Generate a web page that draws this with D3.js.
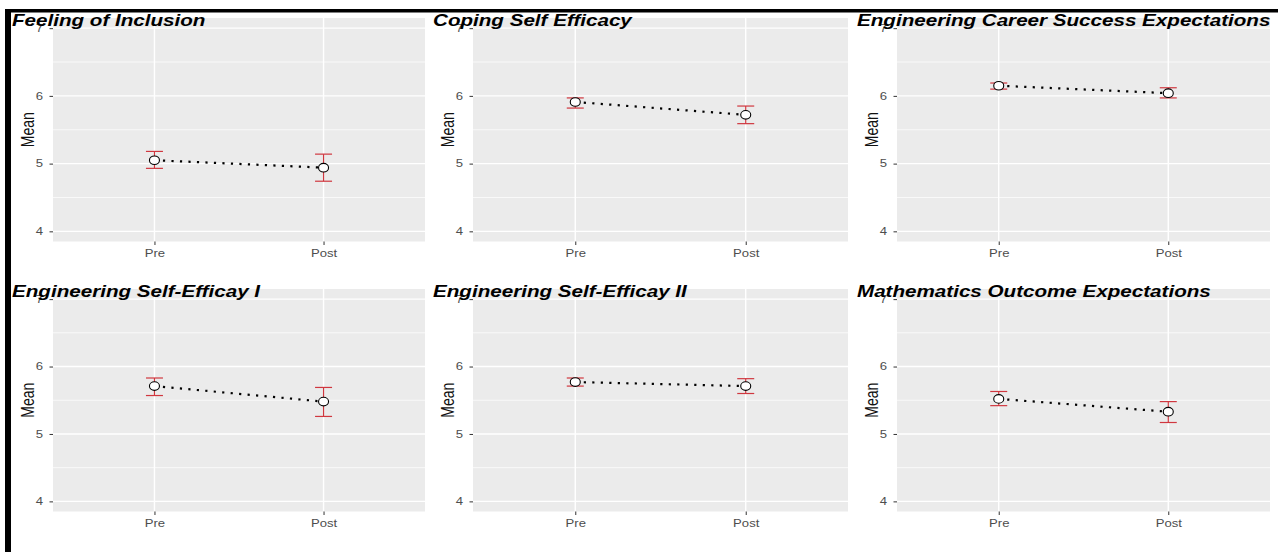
<!DOCTYPE html>
<html>
<head>
<meta charset="utf-8">
<script src="https://cdn.jsdelivr.net/npm/d3@7"></script>
<style>
  html, body { margin: 0; padding: 0; background: #ffffff; }
  svg { display: block; }
</style>
</head>
<body>
<svg id="chart" width="1278" height="552"></svg>
<script>
// ---- data ----
const categories = ["Pre", "Post"];
const titles = [
  "Feeling of Inclusion",
  "Coping Self Efficacy",
  "Engineering Career Success Expectations",
  "Engineering Self-Efficay I",
  "Engineering Self-Efficay II",
  "Mathematics Outcome Expectations"
];
const means = [
  [5.05, 4.94],
  [5.91, 5.72],
  [6.15, 6.04],
  [5.71, 5.48],
  [5.77, 5.71],
  [5.52, 5.33]
];
const lowers = [
  [4.93, 4.74],
  [5.82, 5.59],
  [6.10, 5.97],
  [5.57, 5.26],
  [5.71, 5.60],
  [5.42, 5.17]
];
const uppers = [
  [5.18, 5.14],
  [5.97, 5.85],
  [6.19, 6.12],
  [5.83, 5.69],
  [5.83, 5.82],
  [5.63, 5.48]
];
const yTicks = [4, 5, 6, 7];
const yMinor = [4.5, 5.5, 6.5];
const yLabel = "Mean";

// ---- layout ----
const colX0 = [53, 473, 897];
const colX1 = [425, 848, 1270];
const rowY0 = [18, 289];
const rowY1 = [241.5, 511.5];
const titleX = [12, 433, 857];
const titleY = [26, 297];
const SX = 1.25; // horizontal stretch of the original raster text
const FONT = "'Liberation Sans', Arial, sans-serif";

const svg = d3.select("#chart");

// outer black frame (top line and left bar)
svg.append("rect").attr("x", 5).attr("y", 9).attr("width", 1273).attr("height", 3.5).attr("fill", "#000");
svg.append("rect").attr("x", 5).attr("y", 9).attr("width", 6).attr("height", 543).attr("fill", "#000");

titles.forEach((title, i) => {
  const c = i % 3, r = Math.floor(i / 3);
  const x0 = colX0[c], x1 = colX1[c], y0 = rowY0[r], y1 = rowY1[r];

  const x = d3.scalePoint().domain(categories).range([x0, x1]).padding(0.6);
  const y = d3.scaleLinear().domain([3.85, 7.15]).range([y1, y0]);

  const g = svg.append("g");

  // panel background
  g.append("rect").attr("x", x0).attr("y", y0).attr("width", x1 - x0).attr("height", y1 - y0).attr("fill", "#ebebeb");

  // minor grid
  g.selectAll(".minor").data(yMinor).join("line")
    .attr("x1", x0).attr("x2", x1).attr("y1", d => y(d)).attr("y2", d => y(d))
    .attr("stroke", "#fff").attr("stroke-width", 0.7);
  // major grid
  g.selectAll(".majorY").data(yTicks).join("line")
    .attr("x1", x0).attr("x2", x1).attr("y1", d => y(d)).attr("y2", d => y(d))
    .attr("stroke", "#fff").attr("stroke-width", 1.4);
  g.selectAll(".majorX").data(categories).join("line")
    .attr("x1", d => x(d)).attr("x2", d => x(d)).attr("y1", y0).attr("y2", y1)
    .attr("stroke", "#fff").attr("stroke-width", 1.4);

  // axes
  const yAxis = d3.axisLeft(y).tickValues(yTicks).tickFormat(d3.format("d")).tickSize(3.5).tickPadding(3);
  const ya = g.append("g").attr("transform", `translate(${x0},0)`).call(yAxis);
  const xAxis = d3.axisBottom(x).tickSize(3.5).tickPadding(3);
  const xa = g.append("g").attr("transform", `translate(0,${y1})`).call(xAxis);
  [ya, xa].forEach(a => {
    a.select(".domain").remove();
    a.selectAll(".tick line").attr("stroke", "#333").attr("stroke-width", 1);
    a.selectAll(".tick text").attr("fill", "#4d4d4d")
      .style("font-family", FONT).style("font-size", "10.5px");
  });
  ya.selectAll(".tick text").attr("x", 0).attr("transform", `translate(-10,0) scale(${SX},1)`);
  xa.selectAll(".tick text").attr("y", 0).attr("dy", 0).attr("transform", `translate(0,15.5) scale(${SX},1)`);

  // y label
  g.append("text")
    .attr("transform", `translate(${x0 - 19.5},${(y0 + y1) / 2}) scale(${SX},1) rotate(-90)`)
    .attr("text-anchor", "middle")
    .style("font-family", FONT).style("font-size", "14px")
    .attr("fill", "#111").text(yLabel);

  const pts = categories.map((cat, k) => ({ cat, m: means[i][k], lo: lowers[i][k], hi: uppers[i][k] }));

  // error bars
  const eb = g.selectAll(".eb").data(pts).join("g").attr("stroke", "#d0373f").attr("stroke-width", 1.2);
  eb.append("line").attr("x1", d => x(d.cat)).attr("x2", d => x(d.cat)).attr("y1", d => y(d.lo)).attr("y2", d => y(d.hi));
  eb.append("line").attr("x1", d => x(d.cat) - 8.5).attr("x2", d => x(d.cat) + 8.5).attr("y1", d => y(d.lo)).attr("y2", d => y(d.lo));
  eb.append("line").attr("x1", d => x(d.cat) - 8.5).attr("x2", d => x(d.cat) + 8.5).attr("y1", d => y(d.hi)).attr("y2", d => y(d.hi));

  // dotted line
  g.append("path")
    .attr("d", d3.line().x(d => x(d.cat)).y(d => y(d.m))(pts))
    .attr("fill", "none").attr("stroke", "#000").attr("stroke-width", 2.2)
    .attr("stroke-dasharray", "2.2,6.3");

  // points
  g.selectAll(".pt").data(pts).join("ellipse")
    .attr("cx", d => x(d.cat)).attr("cy", d => y(d.m)).attr("rx", 5).attr("ry", 4.3)
    .attr("fill", "#fff").attr("stroke", "#000").attr("stroke-width", 1.1);

  // title
  svg.append("text")
    .attr("transform", `translate(${titleX[c]},${titleY[r]}) scale(${SX},1)`)
    .style("font-family", FONT)
    .style("font-size", "16.5px").style("font-weight", "bold").style("font-style", "italic")
    .attr("fill", "#000").text(title);
});
</script>
</body>
</html>
